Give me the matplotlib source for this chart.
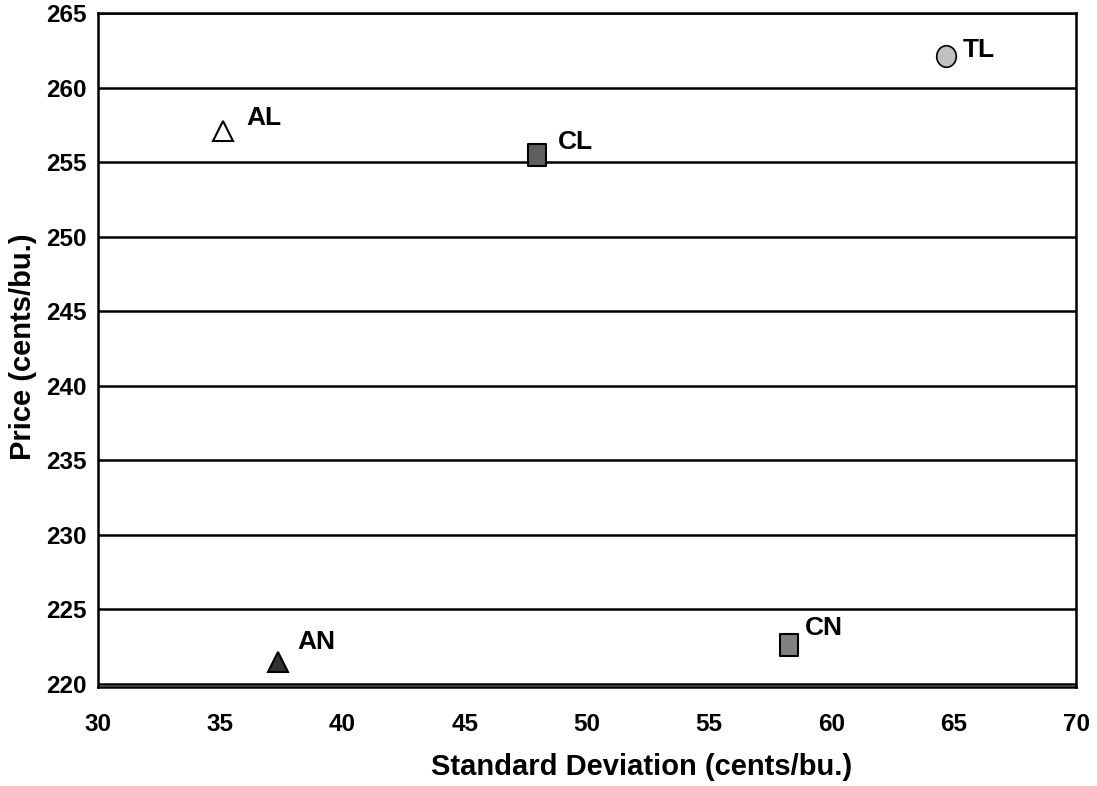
import matplotlib
matplotlib.use("Agg")
import matplotlib.pyplot as plt
from matplotlib.path import Path

# Data
labels = ["AL", "CL", "TL", "AN", "CN"]
std_dev = [35.1, 47.95, 64.7, 37.35, 58.25]
price = [257.1, 255.5, 262.1, 221.5, 222.6]
marker_kinds = ["tri", "rect", "ell", "tri", "rect"]
face_colors = ["#FFFFFF", "#5F5F5F", "#C0C0C0", "#333333", "#808080"]
label_offsets = [(24, 13), (21, 13), (16, 6), (20, 20), (16, 17)]  # pixels right, up

x_ticks = [30, 35, 40, 45, 50, 55, 60, 65, 70]
y_ticks = [220, 225, 230, 235, 240, 245, 250, 255, 260, 265]

plt.rcParams['font.family'] = ['Liberation Sans', 'DejaVu Sans']

rect_path = Path([(-0.41, -0.5), (0.41, -0.5), (0.41, 0.5), (-0.41, 0.5), (-0.41, -0.5)],
                 [Path.MOVETO, Path.LINETO, Path.LINETO, Path.LINETO, Path.CLOSEPOLY])
uc = Path.unit_circle()
ell_path = Path(uc.vertices * [0.91, 1.0], uc.codes)
marker_styles = {
    "tri": dict(marker="^", ms=14.5, mew=1.5),
    "rect": dict(marker=rect_path, ms=16.5, mew=1.5),
    "ell": dict(marker=ell_path, ms=15.5, mew=1.2),
}

fig = plt.figure(figsize=(10.97, 7.86), dpi=100)
ax = fig.add_axes([98/1097, 1 - 687/786, (1076-98)/1097, (687-13)/786])

ax.set_xlim(30, 70)
ax.set_ylim(219.8, 265)

for yv in y_ticks:
    ax.axhline(yv, color="black", lw=1.8, zorder=1)

for lab, xv, yv, mk, fc, off in zip(labels, std_dev, price, marker_kinds, face_colors, label_offsets):
    st = marker_styles[mk]
    ax.plot(xv, yv, marker=st["marker"], ms=st["ms"], mfc=fc, mec="black", mew=st["mew"],
            ls="none", zorder=3)
    ax.annotate(lab, (xv, yv), xytext=(off[0] * 0.72, off[1] * 0.72), textcoords="offset points",
                ha="left", va="center", fontsize=19, fontweight="bold")

ax.set_xticks(x_ticks)
ax.set_yticks(y_ticks)
ax.tick_params(axis="both", length=0, labelsize=17.5)
ax.tick_params(axis="x", pad=19)
ax.tick_params(axis="y", pad=8)
for t in ax.get_xticklabels() + ax.get_yticklabels():
    t.set_fontweight("bold")

for s in ax.spines.values():
    s.set_linewidth(1.8)
    s.set_color("black")

ax.set_xlabel("Standard Deviation (cents/bu.)", fontsize=21, fontweight="bold")
ax.set_ylabel("Price (cents/bu.)", fontsize=21, fontweight="bold")
# axis-title placement as in the reference (axes fraction coordinates)
ax.xaxis.set_label_coords((642 - 98) / 978, -(767 - 687) / 674)
ax.yaxis.set_label_coords(-(98 - 23) / 978, (687 - 347) / 674)
ax.xaxis.label.set_va("center")
ax.yaxis.label.set_va("center")

fig.savefig("out.png", dpi=100)
